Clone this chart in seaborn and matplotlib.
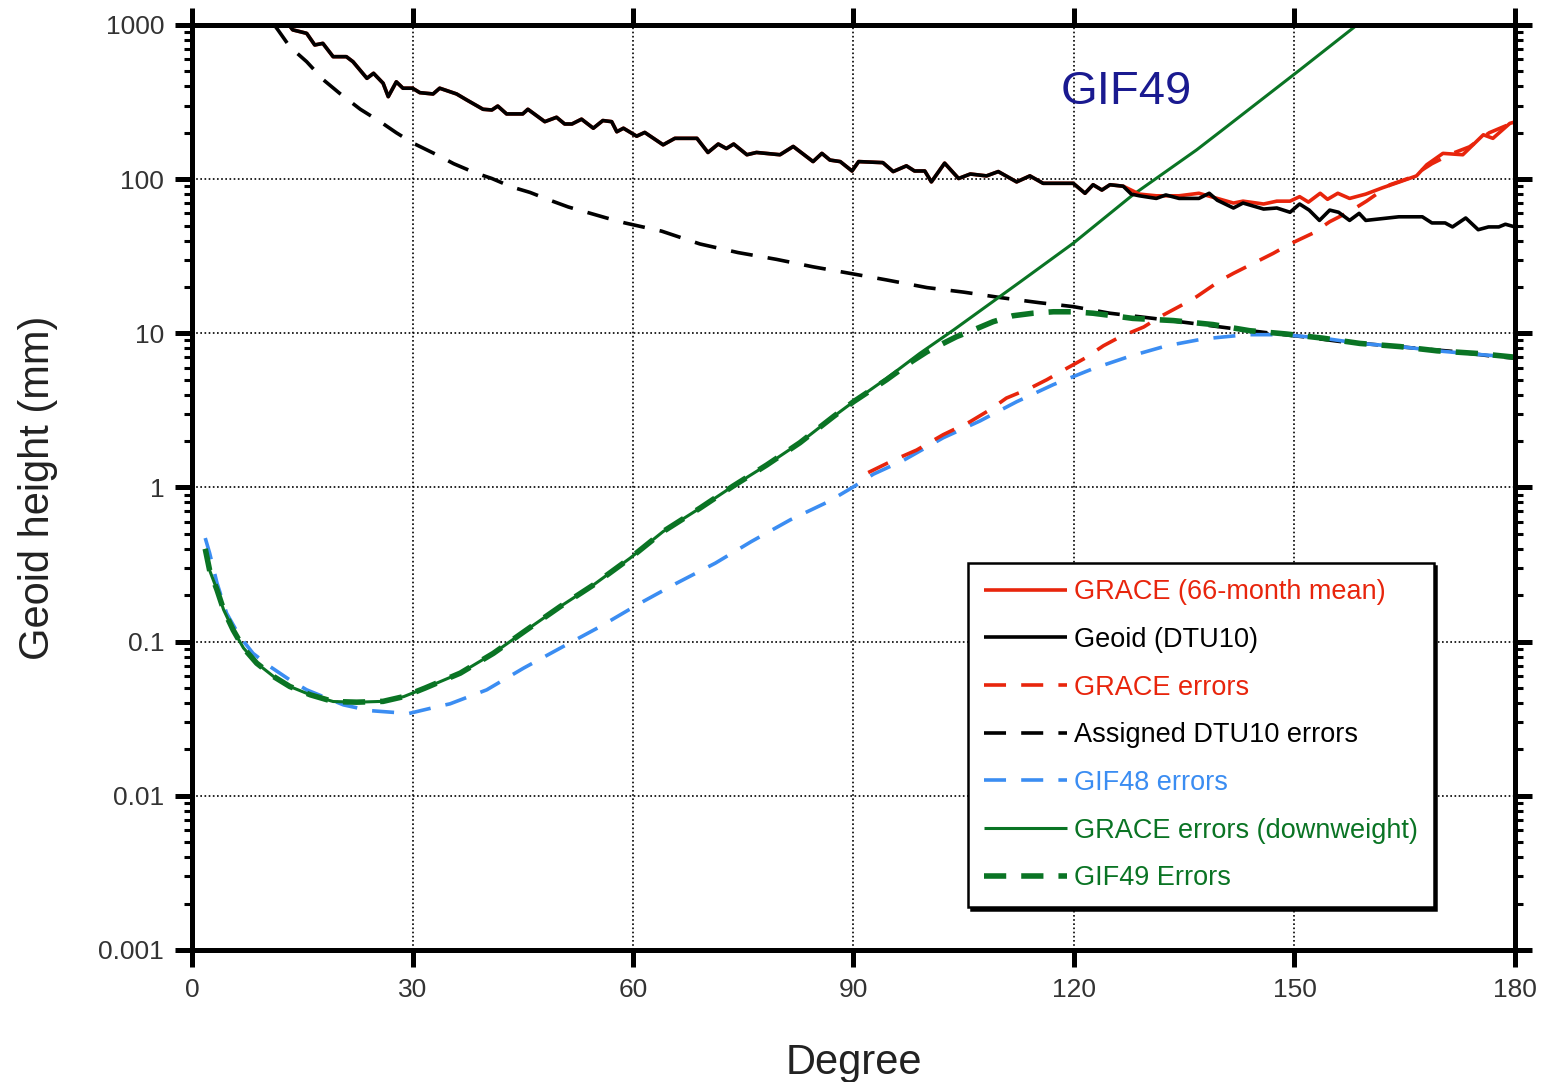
import matplotlib
matplotlib.use("Agg")
import matplotlib.pyplot as plt
import seaborn as sns
import numpy as np

# ---------------- data ----------------
geoid_deg = [13.2, 13.7, 15.6, 16.7, 17.8, 19.2, 21.0, 21.9, 23.8, 24.7, 26.0, 26.7, 27.8, 28.7, 30.0,
             31.0, 32.8, 33.7, 36.0, 37.4, 39.6, 40.8, 41.6, 42.8, 45.0, 45.7, 48.0, 49.6, 50.7, 51.7,
             53.0, 54.6, 55.9, 57.1, 57.8, 58.7, 60.5, 61.6, 64.1, 65.7, 68.7, 70.2, 71.6, 72.7, 73.7,
             75.5, 76.8, 80.0, 81.8, 84.5, 85.7, 86.8, 88.2, 89.8, 90.7, 94.0, 95.4, 97.2, 98.3, 99.7,
             100.6, 102.4, 104.3, 105.9, 108.1, 109.7, 112.2, 114.0, 115.8, 119.9, 121.5, 122.6, 123.8,
             124.9, 126.7, 127.8, 128.9, 131.2, 132.5, 134.3, 137.0, 138.4, 139.5, 141.7, 143.0, 145.8,
             147.6, 149.4, 150.7, 152.0, 153.4, 154.8, 156.0, 157.5, 158.8, 159.7, 164.2, 167.4, 168.7,
             170.5, 171.5, 173.3, 175.0, 176.4, 177.8, 178.7, 180.0]
geoid_val = [1000, 930, 883, 742, 760, 623, 623, 578, 451, 486, 419, 343, 428, 389, 389,
             364, 357, 389, 357, 326, 284, 281, 298, 265, 265, 284, 236, 252, 228, 228,
             245, 214, 240, 236, 203, 214, 190, 201, 167, 184, 184, 149, 169, 158, 169,
             144, 149, 144, 163, 130, 147, 133, 130, 113, 130, 128, 112, 122, 113, 113,
             96, 127, 101, 108, 105, 112, 96, 105, 94, 94, 81, 92, 85,
             92, 90, 80, 78, 75, 79, 75, 75, 81, 73, 65, 70, 64,
             65, 61, 69, 63, 54, 63, 61, 54, 60, 54, 57, 57, 52,
             52, 49, 56, 47, 49, 49, 51, 49]

# GRACE 66-month mean: identical to the geoid curve up to degree ~127, then its own values
grace_tail_deg = [128.9, 131.2, 134.3, 137.0, 139.5, 141.7, 143.0, 145.8, 147.6, 149.4, 150.7, 151.9,
                  153.5, 154.5, 155.9, 157.5, 159.7, 162.0, 164.3, 166.6, 168.0, 170.2, 172.9, 175.7,
                  177.0, 179.3, 180.0]
grace_tail_val = [80, 78, 78, 81, 75, 70, 72, 69, 72, 72, 77, 71,
                  81, 74, 81, 75, 80, 88, 96, 105, 124, 147, 144, 194,
                  184, 230, 235]

grace_err_deg = [92.0, 95.4, 98.6, 102.2, 105.8, 108.6, 110.8, 114.0, 116.3, 118.8, 121.5, 124.0, 126.3,
                 129.5, 131.7, 134.4, 136.7, 139.9, 141.7, 147.1, 149.4, 152.5, 154.8, 157.5, 159.8,
                 163.0, 165.7, 168.7, 171.5, 173.8, 176.5, 180.0]
grace_err_val = [1.25, 1.5, 1.75, 2.2, 2.66, 3.2, 3.8, 4.4, 5.0, 5.85, 6.9, 8.3, 9.5,
                 11, 12.8, 15, 17.3, 22, 24.5, 33, 38, 44.6, 53, 61.6, 72,
                 92, 102, 126, 147, 162, 200, 235]

dtu_err_deg = [11.2, 11.7, 13.3, 15.6, 17.9, 20.1, 22.9, 25.6, 27.8, 30.1, 33.3, 35.6, 38.5, 40.8, 43.5,
               46.0, 48.7, 51.2, 53.7, 56.4, 58.9, 63.9, 69.1, 74.3, 79.5, 84.5, 89.5, 94.5, 100.0,
               105.0, 110.2, 115.3, 119.9, 124.9, 130.8, 136.2, 141.2, 146.2, 151.2, 156.6, 161.6,
               166.6, 172.0, 177.0, 180.0]
dtu_err_val = [1000, 928, 723, 578, 440, 360, 284, 236, 200, 171, 144, 126, 110, 101, 89,
               82, 73, 66, 61, 56, 52, 46, 38, 33.4, 30.2, 27, 24.5, 22.2, 19.8,
               18.5, 17, 15.8, 14.9, 13.5, 12.5, 11.6, 10.8, 10.1, 9.5, 8.8, 8.4,
               8.0, 7.6, 7.1, 6.9]

gif48_deg = [1.8, 2.4, 3.4, 4.7, 6.5, 8.3, 10.6, 13.3, 15.6, 20.6, 24.2, 29.5, 33.5, 35.1, 40.1, 45.1,
             50.5, 55.5, 61.0, 65.9, 71.2, 76.1, 81.4, 86.6, 90.0, 92.7, 96.8, 102.2, 107.2, 112.2,
             117.2, 122.6, 127.6, 132.6, 137.6, 143.5, 148.5, 153.9, 158.9, 164.4, 169.4, 174.9, 180.0]
gif48_val = [0.47, 0.375, 0.24, 0.153, 0.108, 0.084, 0.069, 0.0565, 0.0487, 0.0389, 0.0357, 0.0342,
             0.038, 0.0395, 0.0487, 0.0673, 0.093, 0.125, 0.178, 0.239, 0.323, 0.446, 0.617, 0.81,
             1.01, 1.22, 1.5, 2.1, 2.7, 3.6, 4.65, 5.9, 7.1, 8.3, 9.2, 9.8, 9.8, 9.3, 8.6, 8.2,
             7.7, 7.3, 7.0]

down_deg = [1.8, 2.4, 3.4, 4.3, 5.6, 7.0, 8.8, 11.1, 13.3, 16.1, 19.2, 22.4, 26.0, 28.8, 31.7, 36.5,
            41.0, 45.5, 50.1, 54.6, 59.6, 64.1, 69.1, 73.6, 78.2, 82.7, 87.3, 90.0, 94.5, 99.0,
            103.6, 108.1, 112.7, 119.9, 128.0, 136.7, 140.0, 150.7, 158.5]
down_val = [0.40, 0.29, 0.217, 0.161, 0.119, 0.091, 0.0725, 0.0594, 0.0512, 0.0452, 0.0409, 0.0405,
            0.041, 0.044, 0.05, 0.0625, 0.084, 0.119, 0.169, 0.233, 0.348, 0.518, 0.734, 1.02,
            1.40, 1.95, 2.89, 3.6, 5.1, 7.4, 10.5, 15.0, 21.6, 38.4, 79, 155, 205, 510, 1000]

gif49_deg = [1.8, 2.4, 3.4, 4.3, 5.6, 7.0, 8.8, 11.1, 13.3, 16.1, 19.2, 22.4, 26.0, 28.8, 31.7, 36.5,
             41.0, 45.5, 50.1, 54.6, 59.6, 64.1, 69.1, 73.6, 78.2, 82.7, 87.3, 90.0, 94.5, 98.0,
             100.0, 102.2, 104.0, 106.3, 109.0, 111.7, 114.4, 117.2, 119.9, 122.6, 125.3, 128.0,
             133.5, 138.9, 143.9, 148.9, 153.9, 158.9, 164.4, 169.4, 174.9, 180.0]
gif49_val = [0.40, 0.29, 0.217, 0.161, 0.119, 0.091, 0.0725, 0.0594, 0.0512, 0.0452, 0.0409, 0.0405,
             0.041, 0.044, 0.05, 0.0625, 0.084, 0.119, 0.169, 0.233, 0.348, 0.518, 0.734, 1.02,
             1.40, 1.95, 2.89, 3.6, 5.0, 6.6, 7.6, 8.6, 9.5, 10.5, 11.9, 13.0, 13.5, 13.8, 13.8,
             13.5, 13.0, 12.5, 12.1, 11.4, 10.4, 9.9, 9.3, 8.6, 8.2, 7.7, 7.4, 7.0]

yticks = [0.001, 0.01, 0.1, 1, 10, 100, 1000]
ytick_labels = ["0.001", "0.01", "0.1", "1", "10", "100", "1000"]
xticks = [0, 30, 60, 90, 120, 150, 180]

labels = ["GRACE (66-month mean)", "Geoid (DTU10)", "GRACE errors", "Assigned DTU10 errors",
          "GIF48 errors", "GRACE errors (downweight)", "GIF49 Errors"]

# ---------------- style ----------------
sns.set_theme(style="ticks")
plt.rcParams["font.family"] = ["Liberation Sans", "DejaVu Sans"]

RED = "#e8250c"
BLACK = "#000000"
BLUE = "#3b8df2"
GREEN = "#0a7424"
NAVY = "#1a1a90"

fig = plt.figure(figsize=(15.41, 10.82), dpi=100)
ax = fig.add_axes([0.1246, 0.122, 0.8585, 0.8549])

cut = geoid_deg.index(126.7)
grace_deg = geoid_deg[:cut + 1] + grace_tail_deg
grace_val = geoid_val[:cut + 1] + grace_tail_val

DASH = (0, (6.1, 4.2))
series = [
    (grace_deg, grace_val, RED, 2.6, "-", 3.6),
    (geoid_deg, geoid_val, BLACK, 2.6, "-", 3.7),
    (grace_err_deg, grace_err_val, RED, 2.6, DASH, 3.2),
    (dtu_err_deg, dtu_err_val, BLACK, 2.6, DASH, 3.0),
    (gif48_deg, gif48_val, BLUE, 2.6, DASH, 3.1),
    (down_deg, down_val, GREEN, 2.2, "-", 3.4),
    (gif49_deg, gif49_val, GREEN, 4.0, (0, (4.0, 2.7)), 3.3),
]

handles = []
for (xd, yd, c, lw, ls, z), lab in zip(series, labels):
    sns.lineplot(x=xd, y=yd, ax=ax, color=c, linewidth=lw, linestyle=ls,
                 sort=False, estimator=None, zorder=z, legend=False)
    ln = ax.lines[-1]
    ln.set_label(lab)
    ln.set_solid_capstyle("butt")
    handles.append(ln)

ax.set_yscale("log")
ax.set_xlim(0, 180)
ax.set_ylim(0.001, 1000)
ax.set_xticks(xticks)
ax.set_xticklabels([str(t) for t in xticks])
ax.set_yticks(yticks)
ax.set_yticklabels(ytick_labels)
ax.yaxis.set_minor_locator(matplotlib.ticker.LogLocator(base=10, subs=np.arange(2, 10), numticks=20))
ax.yaxis.set_minor_formatter(matplotlib.ticker.NullFormatter())

for s in ax.spines.values():
    s.set_visible(True)
    s.set_linewidth(3.6)
    s.set_color("black")
    s.set_zorder(6)

ax.tick_params(which="major", direction="out", length=12, width=3.6, color="black",
               top=True, right=True, bottom=True, left=True, labelsize=19,
               labelcolor="#333333", pad=8)
ax.tick_params(axis="y", which="minor", direction="out", length=6, width=2.2, color="black",
               left=True, right=True)
ax.tick_params(axis="x", which="minor", bottom=False, top=False)

ax.grid(True, which="major", linestyle=(0, (1, 1.5)), color="black", linewidth=1.2)
ax.grid(False, which="minor")
ax.set_axisbelow(True)

ax.set_xlabel("Degree", fontsize=30, color="#222222", labelpad=30)
ax.set_ylabel("Geoid height (mm)", fontsize=30, color="#222222", labelpad=29)

ax.text(118.2, 370, "GIF49", fontsize=34, color=NAVY, ha="left", va="center", zorder=7)

leg = ax.legend(handles=handles, labels=labels, loc="upper left", bbox_to_anchor=(0.5865, 0.4184),
                fontsize=19.5, frameon=True, fancybox=False, edgecolor="black", framealpha=1,
                facecolor="white", shadow={"color": "black", "alpha": 1},
                handlelength=3.05, handletextpad=0.25, labelspacing=0.8, borderpad=0.6,
                borderaxespad=0, labelcolor="linecolor")
leg.get_frame().set_linewidth(1.8)
leg.set_zorder(8)

fig.savefig("out.png", dpi=100)
